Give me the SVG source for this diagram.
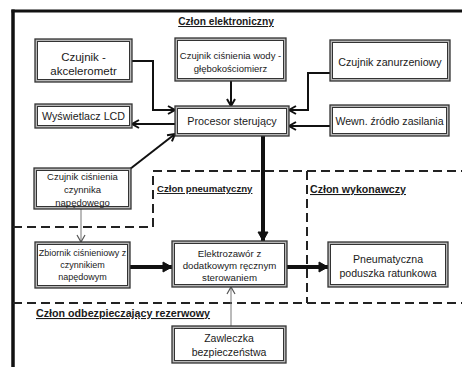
<svg xmlns="http://www.w3.org/2000/svg" width="462" height="367" viewBox="0 0 462 367">
<defs>
<style>
.box{fill:#b8b8b8;stroke:#333;stroke-width:1.3}
.inner{fill:#fff;stroke:#333;stroke-width:1}
.t{font-family:"Liberation Sans",Arial,sans-serif;fill:#1a1a1a;text-anchor:middle}
.lbl{font-family:"Liberation Sans",Arial,sans-serif;font-weight:bold;fill:#1a1a1a;text-decoration:underline}
.c{fill:none;stroke:#111;stroke-width:2}
.ck{fill:none;stroke:#111;stroke-width:4}
.cg{fill:none;stroke:#777;stroke-width:1}
.d{fill:none;stroke:#222;stroke-width:2;stroke-dasharray:9 5}
.frame{fill:none;stroke:#111}
</style>
<marker id="a" markerUnits="userSpaceOnUse" markerWidth="12" markerHeight="12" refX="9" refY="5" orient="auto">
<path d="M2,1 L9,5 L2,9" fill="none" stroke="#111" stroke-width="2"/>
</marker>
<marker id="ak" markerUnits="userSpaceOnUse" markerWidth="14" markerHeight="14" refX="11" refY="6" orient="auto">
<path d="M2,1 L11,6 L2,11 Z" fill="#111" stroke="#111" stroke-width="1"/>
</marker>
<marker id="ag" markerUnits="userSpaceOnUse" markerWidth="12" markerHeight="12" refX="8" refY="5" orient="auto">
<path d="M1,1 L8,5 L1,9" fill="none" stroke="#555" stroke-width="1.2"/>
</marker>
</defs>
<g id="frame">
<line class="frame" x1="13" y1="9.5" x2="13" y2="367" stroke-width="3.5"/>
<line class="frame" x1="11.5" y1="11" x2="462" y2="11" stroke-width="3"/>
</g>
<g id="regions">
<polyline class="d" points="153,227 153,171 462,171"/>
<line class="d" x1="13" y1="227" x2="153" y2="227"/>
<line class="d" x1="307" y1="171" x2="307" y2="303"/>
<line class="d" x1="13" y1="303" x2="462" y2="303"/>
<text class="lbl" x="226" y="25" font-size="10.2" text-anchor="middle">Człon elektroniczny</text>
<text class="lbl" x="157" y="192" font-size="9.6">Człon pneumatyczny</text>
<text class="lbl" x="310" y="193" font-size="10.6">Człon wykonawczy</text>
<text class="lbl" x="36" y="317" font-size="10.7">Człon odbezpieczający rezerwowy</text>
</g>
<g id="connectors">
<polyline class="c" points="132,61 153,61 153,110 175,110" marker-end="url(#a)"/>
<line class="c" x1="231" y1="81" x2="231" y2="106" marker-end="url(#a)"/>
<polyline class="c" points="330,73 308,73 308,110 289,110" marker-end="url(#a)"/>
<line class="c" x1="330" y1="126" x2="289" y2="126" marker-end="url(#a)"/>
<line class="c" x1="175" y1="124" x2="132" y2="124" marker-end="url(#a)"/>
<line class="c" x1="130" y1="169" x2="175" y2="134" marker-end="url(#a)"/>
<line class="ck" x1="263" y1="136" x2="263" y2="241" marker-end="url(#ak)"/>
<line class="cg" x1="81" y1="209" x2="81" y2="242" marker-end="url(#ag)"/>
<line class="ck" x1="130" y1="267" x2="172" y2="267" marker-end="url(#ak)"/>
<line class="ck" x1="287" y1="267" x2="328" y2="267" marker-end="url(#ak)"/>
<line class="cg" x1="231" y1="326" x2="231" y2="287" marker-end="url(#ag)"/>
</g>
<g id="akcelerometr">
<rect class="box" x="35" y="39" width="97" height="43"/>
<rect class="inner" x="37.5" y="41.5" width="92" height="38"/>
<text class="t" x="83.5" y="61" font-size="11.5">Czujnik -</text>
<text class="t" x="83.5" y="75" font-size="11.5">akcelerometr</text>
</g>
<g id="glebokosciomierz">
<rect class="box" x="175" y="38" width="111" height="43"/>
<rect class="inner" x="177.5" y="40.5" width="106" height="38"/>
<text class="t" x="230.5" y="58.5" font-size="9.5">Czujnik ciśnienia wody -</text>
<text class="t" x="230.5" y="71.5" font-size="9.5">głębokościomierz</text>
</g>
<g id="zanurzeniowy">
<rect class="box" x="330" y="40" width="120" height="41"/>
<rect class="inner" x="332.5" y="42.5" width="115" height="36"/>
<text class="t" x="390" y="66" font-size="10.7">Czujnik zanurzeniowy</text>
</g>
<g id="lcd">
<rect class="box" x="35" y="104" width="97" height="24"/>
<rect class="inner" x="37.5" y="106.5" width="92" height="19"/>
<text class="t" x="83.5" y="119.5" font-size="10.7">Wyświetlacz LCD</text>
</g>
<g id="procesor">
<rect class="box" x="175" y="106" width="114" height="30"/>
<rect class="inner" x="177.5" y="108.5" width="109" height="25"/>
<text class="t" x="232" y="125" font-size="10.8">Procesor sterujący</text>
</g>
<g id="zasilanie">
<rect class="box" x="330" y="105" width="119" height="31"/>
<rect class="inner" x="332.5" y="107.5" width="114" height="26"/>
<text class="t" x="389.5" y="125" font-size="10.6">Wewn. źródło zasilania</text>
</g>
<g id="czujnik-cisnienia-czynnika">
<rect class="box" x="34" y="168" width="97" height="41"/>
<rect class="inner" x="36.5" y="170.5" width="92" height="36"/>
<text class="t" x="82.5" y="179.5" font-size="9.5">Czujnik ciśnienia</text>
<text class="t" x="82.5" y="192.5" font-size="9.5">czynnika</text>
<text class="t" x="82.5" y="205.5" font-size="9.5">napędowego</text>
</g>
<g id="zbiornik">
<rect class="box" x="35" y="242" width="95" height="46"/>
<rect class="inner" x="37.5" y="244.5" width="90" height="41"/>
<text class="t" x="82.5" y="256" font-size="9">Zbiornik ciśnieniowy z</text>
<text class="t" x="82.5" y="268" font-size="9">czynnikiem</text>
<text class="t" x="82.5" y="280" font-size="9">napędowym</text>
</g>
<g id="elektrozawor">
<rect class="box" x="172" y="241" width="115" height="46"/>
<rect class="inner" x="174.5" y="243.5" width="110" height="41"/>
<text class="t" x="229.5" y="256.5" font-size="9.7">Elektrozawór z</text>
<text class="t" x="229.5" y="268.5" font-size="9.7">dodatkowym ręcznym</text>
<text class="t" x="229.5" y="280.5" font-size="9.7">sterowaniem</text>
</g>
<g id="poduszka">
<rect class="box" x="328" y="242" width="120" height="45"/>
<rect class="inner" x="330.5" y="244.5" width="115" height="40"/>
<text class="t" x="388" y="263" font-size="10.6">Pneumatyczna</text>
<text class="t" x="388" y="276.5" font-size="10.6">poduszka ratunkowa</text>
</g>
<g id="zawleczka">
<rect class="box" x="172" y="326" width="114" height="37"/>
<rect class="inner" x="174.5" y="328.5" width="109" height="32"/>
<text class="t" x="229" y="342" font-size="10.5">Zawleczka</text>
<text class="t" x="229" y="356" font-size="10.5">bezpieczeństwa</text>
</g>
</svg>
